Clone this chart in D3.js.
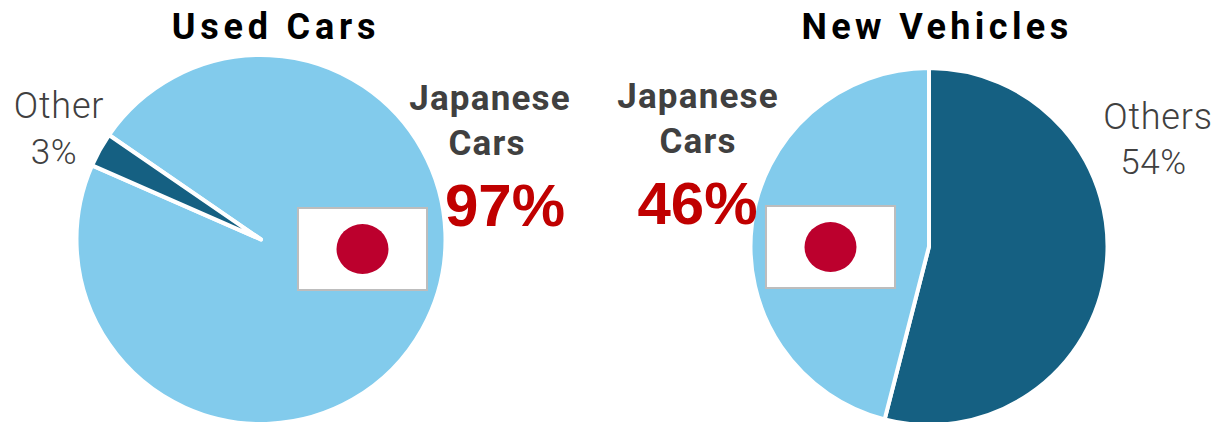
<!DOCTYPE html>
<html><head><meta charset="utf-8">
<script src="https://cdnjs.cloudflare.com/ajax/libs/d3/7.8.5/d3.min.js"></script>
<style>html,body{margin:0;padding:0;background:#fff}svg{display:block}text{font-family:"Roboto","Liberation Sans",sans-serif}</style>
</head><body><svg id="c" width="1222" height="422"></svg>
<script>
// Market share by origin for two vehicle segments
const usedLabels = ["Japanese Cars", "Other"];
const usedValues = [97, 3];
const newLabels = ["Others", "Japanese Cars"];
const newValues = [54, 46];
const paletteJapan = "#82cbec", paletteOther = "#156082";

const svg = d3.select("#c");
function drawPie(cx, cy, r, values, labels, startAngle) {
  const pie = d3.pie().sort(null).startAngle(startAngle).endAngle(startAngle + 2 * Math.PI);
  const arc = d3.arc().innerRadius(0).outerRadius(r);
  svg.append("g").attr("transform", `translate(${cx},${cy})`)
    .selectAll("path").data(pie(values)).join("path")
    .attr("d", arc)
    .attr("fill", (d, i) => labels[i].startsWith("Japanese") ? paletteJapan : paletteOther)
    .attr("stroke", "#fff").attr("stroke-width", 4).attr("stroke-linejoin", "round");
}
drawPie(261, 239.5, 184.5, usedValues, usedLabels, -55.5 * Math.PI / 180);
drawPie(929, 246.5, 178.5, newValues, newLabels, 0);

function flag(x, y, w, h) {
  svg.append("rect").attr("x", x).attr("y", y).attr("width", w).attr("height", h)
    .attr("fill", "#fff").attr("stroke", "#bdbdbd").attr("stroke-width", 2);
  svg.append("ellipse").attr("cx", x + w / 2).attr("cy", y + h / 2)
    .attr("rx", 26).attr("ry", 25).attr("fill", "#bc002d");
}
flag(298, 208, 129, 82);
flag(766, 206, 129, 82);

function label(x, y, s, size, fill, weight, spacing, family) {
  svg.append("text").attr("x", x).attr("y", y).attr("text-anchor", "middle")
    .attr("font-size", size).attr("fill", fill).attr("font-weight", weight)
    .attr("letter-spacing", spacing || 0)
    .style("font-family", family || null).text(s);
}
label(276, 39, "Used Cars", 36, "#000", 700, 4.8);
label(937, 39, "New Vehicles", 36, "#000", 700, 4.4);
label(490, 110, "Japanese", 35, "#404040", 700, 1.2);
label(487, 155, "Cars", 35, "#404040", 700, 1.2);
label(505, 226, `${usedValues[0]}%`, 60, "#c00000", 700, 0, "Liberation Sans");
label(698, 108, "Japanese", 35, "#404040", 700, 1.2);
label(698, 153, "Cars", 35, "#404040", 700, 1.2);
label(697.5, 224, `${newValues[1]}%`, 60, "#c00000", 700, 0, "Liberation Sans");
label(59, 118, "Other", 36, "#404040", 300, 0.8);
label(54, 164, `${usedValues[1]}%`, 35, "#404040", 300, 0.6);
label(1158, 129, "Others", 36, "#404040", 300, 0.8);
label(1153.5, 174, `${newValues[0]}%`, 35, "#404040", 300, 0.6);
</script></body></html>
